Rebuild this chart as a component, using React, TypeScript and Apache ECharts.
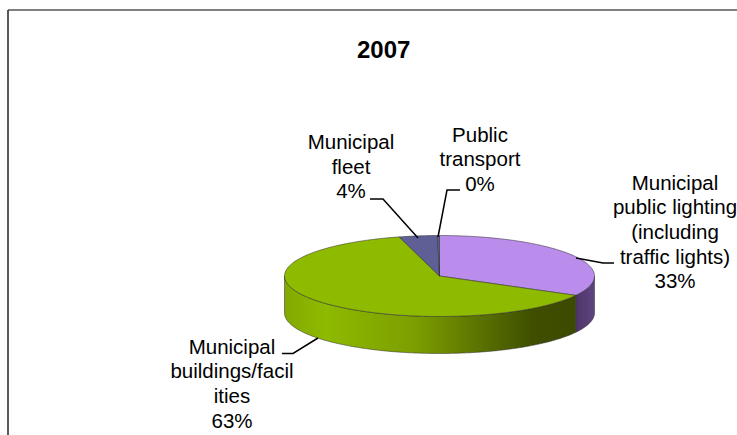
import React, { useEffect, useRef } from "react";
import * as echarts from "echarts";

const categories = [
  "Municipal public lighting (including traffic lights)",
  "Municipal buildings/facilities",
  "Municipal fleet",
  "Public transport",
];
const values = [33, 63, 4, 0.2];
const percentLabels = ["33%", "63%", "4%", "0%"];
const labelLines = [
  ["Municipal", "public lighting", "(including", "traffic lights)", "33%"],
  ["Municipal", "buildings/facil", "ities", "63%"],
  ["Municipal", "fleet", "4%"],
  ["Public", "transport", "0%"],
];
const labelCenters = [
  [675, 182],
  [232, 346],
  [351, 141.5],
  [480, 134],
];
const leaders = [
  [[576, 258], [603, 263], [614, 263]],
  [[318, 338], [293, 353.5], [282, 353.5]],
  [[418, 238], [383, 199], [370, 199]],
  [[438, 237], [447, 190], [460, 190]],
];
const topColors = ["#BA8CEC", "#8EBA00", "#5F5F96", "#6A6AA0"];

const CX = 439.5, CY = 276, RX = 155, RY = 40.5, DEPTH = 37;
const FONT = '"Liberation Sans", Arial, sans-serif';
const LINE_H = 24.7;

const pt = (a: number, dy = 0) => [CX + RX * Math.sin(a), CY - RY * Math.cos(a) + dy];

function arcPts(a0: number, a1: number, dy = 0) {
  const n = Math.max(2, Math.ceil(Math.abs(a1 - a0) / 0.02));
  const out: number[][] = [];
  for (let i = 0; i <= n; i++) out.push(pt(a0 + ((a1 - a0) * i) / n, dy));
  return out;
}

const total = values.reduce((a, b) => a + b, 0);
const EDGE = "rgba(45,45,45,0.65)";

const wallFill = (i: number) =>
  i === 1
    ? new echarts.graphic.LinearGradient(0, 0, 1, 0, [
        { offset: 0, color: "#84A800" },
        { offset: 0.14, color: "#8EBA00" },
        { offset: 0.45, color: "#7C9E00" },
        { offset: 0.85, color: "#3F4F00" },
        { offset: 1, color: "#3C4A00" },
      ])
    : new echarts.graphic.LinearGradient(0, 0, 1, 0, [
        { offset: 0, color: "#4E3568" },
        { offset: 1, color: "#5F4480" },
      ]);

function renderItem(params: any, api: any) {
  const i = params.dataIndex;
  const before = values.slice(0, i).reduce((a, b) => a + b, 0);
  const a0 = (before / total) * Math.PI * 2;
  const a1 = ((before + api.value(1)) / total) * Math.PI * 2;
  const children: any[] = [];

  // outer wall: only the front part (90deg..270deg) of the rim is visible
  const w0 = Math.max(a0, Math.PI / 2);
  const w1 = Math.min(a1, (Math.PI * 3) / 2);
  if (w1 > w0) {
    children.push({
      type: "polygon",
      shape: { points: [...arcPts(w0, w1), ...arcPts(w1, w0, DEPTH)] },
      style: { fill: wallFill(i), stroke: EDGE, lineWidth: 0.8 },
      z2: 1,
    });
  }
  // top face
  children.push({
    type: "polygon",
    shape: { points: [[CX, CY], ...arcPts(a0, a1)] },
    style: { fill: topColors[i], stroke: EDGE, lineWidth: 0.8 },
    z2: 2,
  });
  // leader line
  children.push({
    type: "polyline",
    shape: { points: leaders[i] },
    style: { fill: "none", stroke: "#000", lineWidth: 1.5 },
    z2: 5,
  });
  // label
  const lines = labelLines[i];
  lines.forEach((t, k) => {
    children.push({
      type: "text",
      style: {
        text: k === lines.length - 1 ? percentLabels[i] : t,
        x: labelCenters[i][0],
        y: labelCenters[i][1] + k * LINE_H,
        align: "center",
        verticalAlign: "middle",
        font: `20.5px ${FONT}`,
        fill: "#000",
      },
      z2: 6,
    });
  });
  return { type: "group", children };
}

export default function App() {
  const ref = useRef<HTMLDivElement>(null);
  useEffect(() => {
    const chart = echarts.init(ref.current!, null, { renderer: "svg" });
    chart.setOption({
      animation: false,
      backgroundColor: "#fff",
      title: {
        text: "2007",
        left: 357,
        top: 37,
        textStyle: { fontFamily: FONT, fontSize: 24, fontWeight: "bold", color: "#000" },
        padding: 0,
      },
      graphic: [
        { type: "line", shape: { x1: 8, y1: 10, x2: 737, y2: 10 }, style: { stroke: "#808080", lineWidth: 2 } },
        { type: "line", shape: { x1: 8, y1: 10, x2: 8, y2: 435 }, style: { stroke: "#222", lineWidth: 1.5 } },
      ],
      series: [
        {
          type: "custom",
          coordinateSystem: "none",
          data: categories.map((c, i) => ({ name: c, value: [i, values[i]] })),
          renderItem,
        },
      ],
    });
    return () => chart.dispose();
  }, []);
  return (
    <div
      ref={ref}
      style={{ position: "fixed", left: 0, top: 0, width: 737, height: 435, overflow: "hidden" }}
    />
  );
}
